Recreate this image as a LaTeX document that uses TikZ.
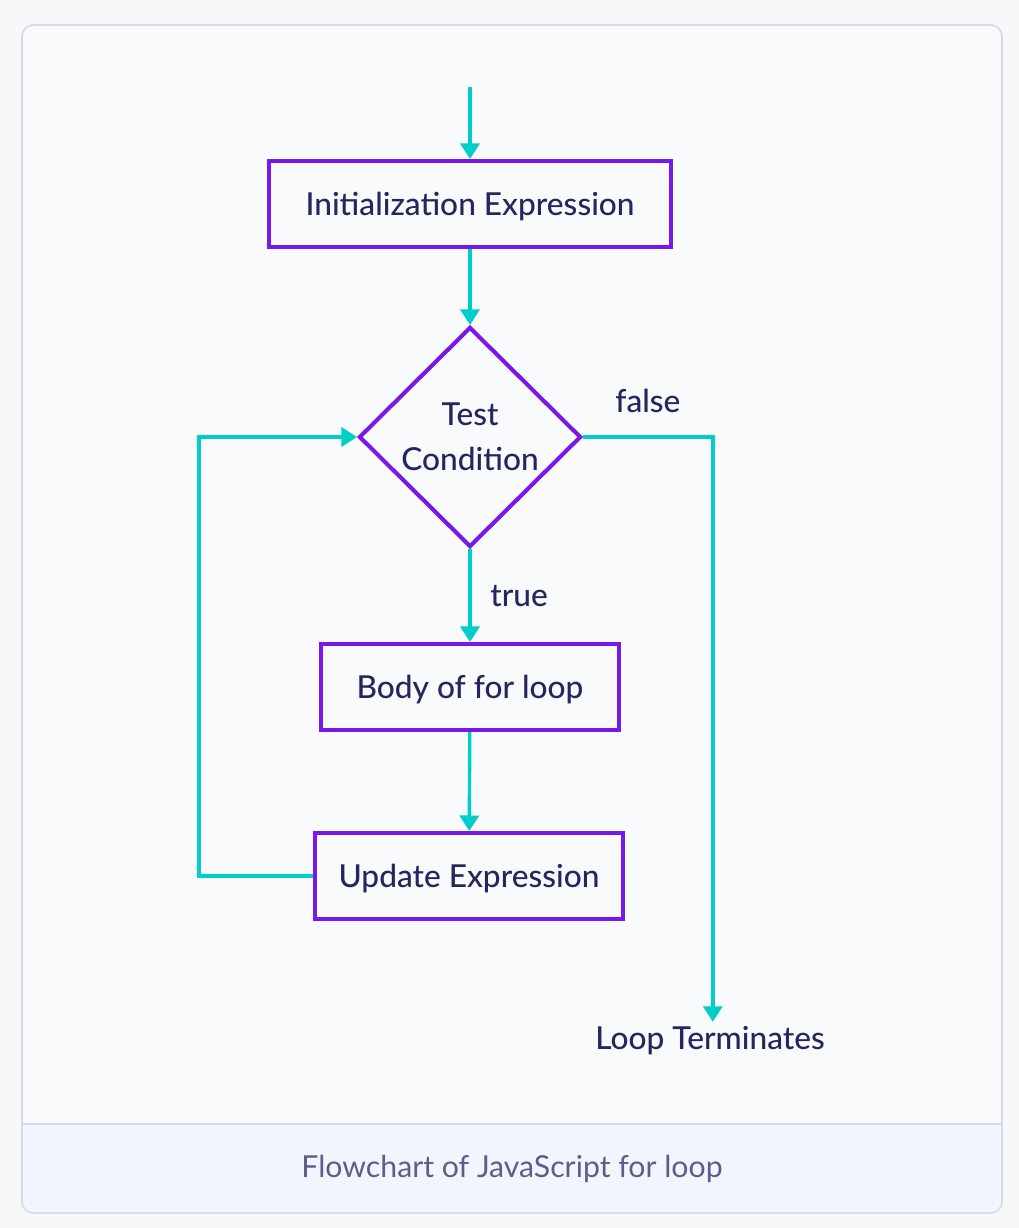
\documentclass[tikz,border=0pt]{standalone}
\usepackage{fontspec}
\setmainfont{Lato Medium}
\newfontfamily\capfont{Lato}
\usepackage{tikz}
\usetikzlibrary{shapes, arrows.meta, positioning, backgrounds}
\definecolor{flowcyan}{HTML}{00CEC9}
\definecolor{flowpurple}{HTML}{7A18EA}
\definecolor{flowtext}{HTML}{25265E}
\definecolor{captext}{HTML}{5F5C8C}
\definecolor{panelline}{HTML}{D6DBE6}
\definecolor{panelfill}{HTML}{F9FAFC}
\definecolor{capfill}{HTML}{F1F5FD}
\definecolor{pagefill}{HTML}{F7F8FA}
\tikzstyle{block} = [rectangle, minimum height=2.15cm, text depth=0pt, text centered, draw=flowpurple, line width=2.9pt, fill=panelfill, text=flowtext, font=\fontsize{22.5}{27}\selectfont]
\tikzstyle{decision} = [diamond, aspect=1, inner sep=0pt, minimum width=5.55cm, minimum height=5.5cm, align=center, draw=flowpurple, line width=2.9pt, fill=panelfill, text=flowtext, font=\fontsize{22.5}{32}\selectfont]
\tikzstyle{label} = [text=flowtext, font=\fontsize{22.5}{27}\selectfont]
\tikzstyle{arrow} = [-{Triangle[length=11pt, width=13.5pt]}, draw=flowcyan, line width=2.4pt]

\begin{document}
\begin{tikzpicture}[x=0.025cm, y=-0.025cm, background rectangle/.style={fill=pagefill}, show background rectangle]

    \useasboundingbox (0, 0) rectangle (1018, 1228);

    % panel and caption band
    \fill[panelfill, rounded corners=8] (22, 25) rectangle (1002, 1213);
    \fill[capfill] (22, 1124) -- (1002, 1124) [rounded corners=8] -- (1002, 1213) -- (22, 1213) [sharp corners] -- cycle;
    \draw[panelline, line width=1.2pt] (22, 1124) -- (1002, 1124);
    \draw[panelline, line width=1.2pt, rounded corners=8] (22, 25) rectangle (1002, 1213);
    \node (caption) [text=captext, font=\capfont\fontsize{21.5}{26}\selectfont] at (512, 1169) {Flowchart of JavaScript for loop};

    \coordinate (start) at (470, 87);
    \node (init) [block, minimum width=10.05cm] at (470, 204) {Initialization Expression};
    \node (test) [decision] at (470, 437) {Test\\Condition};
    \node (body) [block, minimum width=7.45cm] at (470, 687) {Body of for loop};
    \node (update) [block, minimum width=7.7cm] at (469, 876) {Update Expression};
    \node (term) [label] at (710, 1041) {Loop Terminates};

    \draw [arrow] (start) -- (init);
    \draw [arrow] (init) -- (test);
    \draw [arrow] (test) -- node[label, right=0.35cm] {true} (body);
    \draw [arrow] (body) -- (update);
    \draw [arrow] (update.west) -- ++(-114, 0) |- (test.west);
    \draw [arrow] (test.east) -| node[label, above=0.45cm, pos=0.25] {false} ([xshift=2]term.north);

\end{tikzpicture}
\end{document}
